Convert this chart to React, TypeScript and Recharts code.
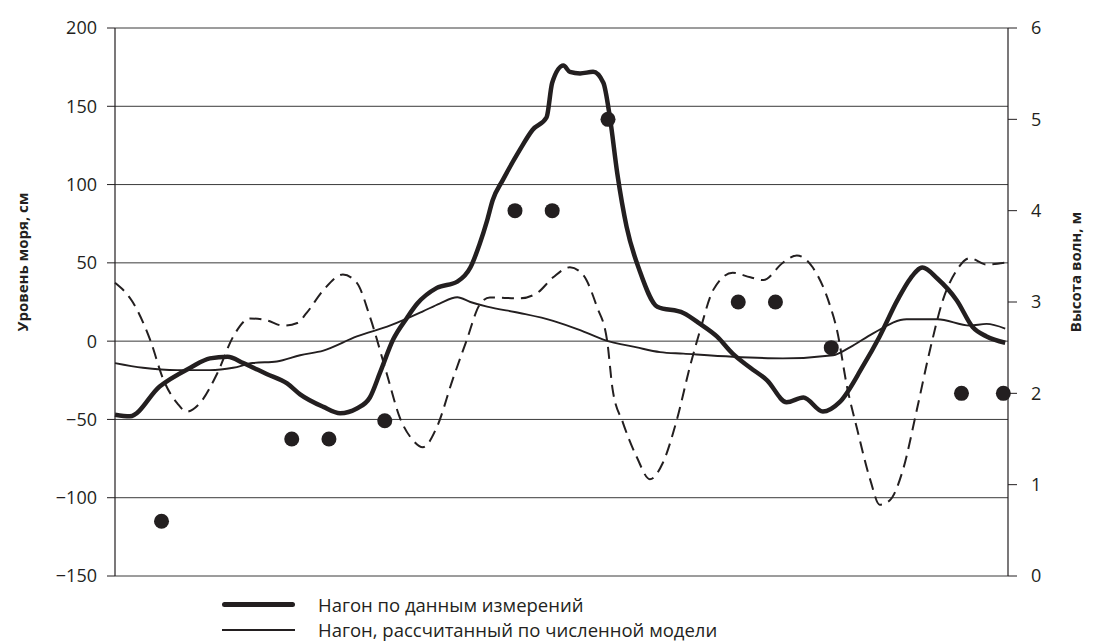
import React from 'react';
import {
  ComposedChart,
  Line,
  Scatter,
  XAxis,
  YAxis,
  CartesianGrid,
} from 'recharts';

// time, hours
const measuredT = [0, 1.6, 4.8, 8.1, 10.2, 12.1, 13.8, 16.3, 18.5, 19.9, 22.4, 24.2, 26.0, 27.4, 28.5, 29.9, 31.4, 32.5, 34.6, 36.8, 38.2, 39.2, 40.0, 40.6, 41.7, 43.5, 44.9, 46.4, 47.0, 48.2, 48.9, 50.0, 51.4, 52.5, 53.2, 54.0, 55.0, 56.4, 58.3, 61.1, 62.9, 64.7, 66.4, 68.3, 70.1, 72.2, 74.0, 76.1, 77.9, 80.4, 82.2, 84.1, 85.5, 86.8, 88.4, 90.5, 92.2, 93.7, 95.7];
const measuredV = [-47, -48, -29, -17, -11, -10, -14, -21, -27, -34, -42, -46, -43, -36, -20, 1, 15, 24, 34, 38, 47, 62, 77, 90, 103, 122, 135, 143, 165, 176, 172, 171, 172, 165, 143, 107, 73, 45, 22, 18, 11, 3, -8, -17, -25, -39, -36, -45, -39, -16, 3, 26, 40, 47, 40, 26, 9, 3, -1];

const modelT = [0, 3.0, 6.7, 10.2, 12.7, 14.8, 17.4, 19.9, 22.4, 26.0, 29.6, 33.1, 34.9, 36.8, 38.2, 40.0, 43.5, 47.1, 50.0, 52.5, 56.1, 58.6, 61.1, 66.4, 71.8, 77.2, 79.0, 81.5, 85.1, 88.4, 91.9, 93.7, 95.7];
const modelV = [-14, -17, -18.5, -18.5, -17, -14, -13, -9, -6, 3, 10, 19, 24, 28, 25, 22, 18, 13, 7, 1, -4, -7, -8, -10, -11, -9, -4, 5, 14, 14, 10, 11, 8];

const waveModelT = [0, 1.9, 3.8, 5.2, 6.7, 7.7, 9.1, 11.0, 12.7, 14.5, 16.3, 18.1, 19.6, 20.6, 22.4, 24.5, 26.0, 27.4, 29.2, 30.6, 32.0, 33.1, 34.6, 36.3, 37.8, 39.2, 40.3, 43.5, 45.4, 47.1, 48.9, 50.3, 51.8, 52.9, 53.5, 54.6, 56.1, 57.5, 58.9, 60.4, 61.8, 62.9, 64.3, 66.4, 68.3, 69.7, 71.8, 73.3, 75.0, 76.9, 77.6, 78.7, 79.8, 81.2, 82.2, 83.3, 84.7, 86.2, 87.6, 89.0, 90.5, 91.9, 93.7, 95.7];
const waveModelV = [3.21, 3.0, 2.58, 2.15, 1.89, 1.8, 1.89, 2.22, 2.62, 2.82, 2.8, 2.74, 2.77, 2.88, 3.13, 3.3, 3.21, 2.84, 2.22, 1.74, 1.49, 1.41, 1.63, 2.15, 2.58, 2.97, 3.05, 3.04, 3.1, 3.27, 3.38, 3.3, 2.95, 2.58, 2.04, 1.68, 1.3, 1.06, 1.24, 1.71, 2.29, 2.69, 3.13, 3.32, 3.27, 3.24, 3.43, 3.51, 3.38, 2.95, 2.7, 2.07, 1.6, 1.05, 0.78, 0.83, 1.16, 1.82, 2.47, 3.02, 3.35, 3.48, 3.41, 3.43];

const waveObsT = [5, 19, 23, 29, 43, 47, 53, 67, 71, 77, 91, 95.5];
const waveObsV = [0.6, 1.5, 1.5, 1.7, 4.0, 4.0, 5.0, 3.0, 3.0, 2.5, 2.0, 2.0];

const leftTicks = [-150, -100, -50, 0, 50, 100, 150, 200];
const rightTicks = [0, 1, 2, 3, 4, 5, 6];

const leftTitle = 'Уровень моря, см';
const rightTitle = 'Высота волн, м';
const legendItems = ['Нагон по данным измерений', 'Нагон, рассчитанный по численной модели'];

const measured = measuredT.map((t, i) => ({ t, v: measuredV[i] }));
const model = modelT.map((t, i) => ({ t, v: modelV[i] }));
const waveModel = waveModelT.map((t, i) => ({ t, v: waveModelV[i] }));
const waveObs = waveObsT.map((t, i) => ({ t, v: waveObsV[i] }));

const INK = '#231f20';
const FONT = '"Open Sans", "Noto Sans", sans-serif';

const fmt = (v: number) => (v < 0 ? '\u2212' + Math.abs(v) : String(v));

const Dot = (props: any) => <circle cx={props.cx} cy={props.cy} r={7.5} fill={INK} />;

const titleStyle = { fill: INK, fontSize: 15, fontWeight: 700, fontFamily: FONT } as const;

export default function App() {
  return (
    <div style={{ position: 'relative', width: 1086, height: 635, fontFamily: FONT }}>
      <ComposedChart width={1086} height={635} margin={{ top: 20, right: 0, bottom: 67, left: 0 }}>
        <CartesianGrid yAxisId="left" vertical={false} stroke="#3a3a3a" strokeWidth={1} />
        <XAxis type="number" dataKey="t" domain={[0, 96]} hide allowDuplicatedCategory={false} />
        <YAxis
          yAxisId="left"
          type="number"
          domain={[-150, 200]}
          ticks={leftTicks}
          width={107}
          tickSize={8}
          tickMargin={10}
          tickFormatter={fmt}
          stroke={INK}
          axisLine={{ stroke: INK, strokeWidth: 1.2 }}
          tickLine={{ stroke: INK, strokeWidth: 1 }}
          tick={{ fill: INK, fontSize: 18, fontFamily: FONT }}
        />
        <YAxis
          yAxisId="right"
          orientation="right"
          type="number"
          domain={[0, 6]}
          ticks={rightTicks}
          width={86}
          tickSize={9}
          tickMargin={14}
          stroke={INK}
          axisLine={{ stroke: INK, strokeWidth: 1.2 }}
          tickLine={{ stroke: INK, strokeWidth: 1 }}
          tick={{ fill: INK, fontSize: 18, fontFamily: FONT }}
        />
        <Line
          yAxisId="right"
          data={waveModel}
          dataKey="v"
          type="monotone"
          stroke={INK}
          strokeWidth={2}
          strokeDasharray="12 7"
          dot={false}
          isAnimationActive={false}
        />
        <Line
          yAxisId="left"
          data={model}
          dataKey="v"
          type="monotone"
          stroke={INK}
          strokeWidth={1.9}
          dot={false}
          isAnimationActive={false}
        />
        <Line
          yAxisId="left"
          data={measured}
          dataKey="v"
          type="monotone"
          stroke={INK}
          strokeWidth={4.5}
          dot={false}
          isAnimationActive={false}
        />
        <Scatter yAxisId="right" data={waveObs} dataKey="v" shape={Dot} isAnimationActive={false} />
        <text x={14} y={254} transform="rotate(-90 14 254)" textAnchor="middle" dominantBaseline="central" {...titleStyle}>
          {leftTitle}
        </text>
        <text x={1067} y={264} transform="rotate(-90 1067 264)" textAnchor="middle" dominantBaseline="central" {...titleStyle}>
          {rightTitle}
        </text>
      </ComposedChart>
      <div style={{ position: 'absolute', left: 214, top: 584, color: INK, fontSize: 18.5, lineHeight: '25px' }}>
        <div style={{ display: 'flex', alignItems: 'center' }}>
          <span style={{ display: 'inline-block', width: 73, height: 5, borderRadius: 3, background: INK, marginRight: 23 }} />
          <span>{legendItems[0]}</span>
        </div>
        <div style={{ display: 'flex', alignItems: 'center' }}>
          <span style={{ display: 'inline-block', width: 73, height: 2, background: INK, marginRight: 23 }} />
          <span>{legendItems[1]}</span>
        </div>
      </div>
    </div>
  );
}
